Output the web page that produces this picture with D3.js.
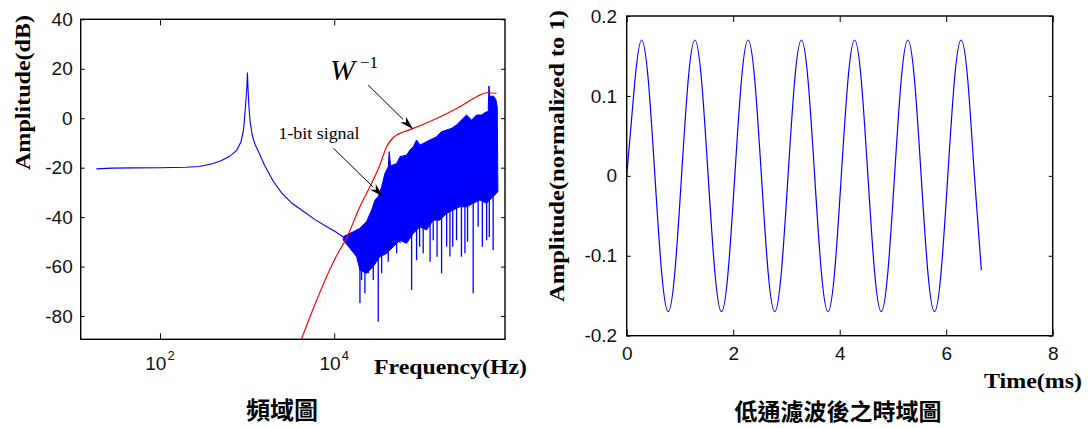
<!DOCTYPE html>
<html><head><meta charset="utf-8">
<script src="https://cdn.jsdelivr.net/npm/d3@7"></script>
<style>body{margin:0;background:#fff}svg{display:block}</style>
</head><body>
<svg id="c" width="1090" height="428"></svg>
<script>
// ---------- Left chart data (frequency in log10 Hz, amplitude in dB) ----------
const lowLogF = [1.27,1.45,1.7,2.0,2.3,2.45,2.6,2.7,2.8,2.88,2.93,2.96,2.975,2.99,2.998,3.004,3.01,3.02,3.035,3.06,3.09,3.13,3.2,3.3,3.4,3.52,3.64,3.78,3.92,4.02,4.104];
const lowDb   = [-20.5,-20.2,-20.1,-20.0,-19.8,-19.5,-18.4,-17.2,-15.4,-13.0,-9.5,-4.5,2,9,13,18.5,12.5,5,-1.5,-7,-10.5,-13.5,-19.0,-25.5,-30.4,-34.5,-37.5,-41.0,-44.0,-46.0,-48.0];

const bandTopLogF = [4.104,4.218,4.295,4.371,4.429,4.467,4.505,4.544,4.582,4.62,4.631,4.647,4.716,4.754,4.83,4.869,4.907,4.945,4.983,5.021,5.098,5.175,5.232,5.289,5.347,5.404,5.461,5.519,5.576,5.634,5.691,5.748,5.767,5.775,5.787,5.825,5.855,5.871,5.878];
const bandTopDb   = [-47.9,-45.9,-44.5,-41.8,-37.1,-33.1,-31.7,-27.7,-22.3,-19.6,-13.5,-19.3,-18.3,-15.6,-14.9,-12.9,-11.5,-8.8,-10.8,-10.2,-8.8,-7.5,-5.4,-4.8,-4.1,-2.7,-0.7,1.3,-0.7,1.3,1.3,2.6,2.6,13.0,8.7,9.0,7.6,4.7,-29.0];

const bandBotLogF = [4.104,4.18,4.257,4.295,4.371,4.448,4.524,4.601,4.677,4.754,4.83,4.907,4.983,5.06,5.136,5.213,5.289,5.366,5.442,5.519,5.595,5.672,5.748,5.825,5.878];
const bandBotDb   = [-49.3,-52.6,-56.0,-61.4,-62.7,-60.0,-56.0,-54.7,-52.0,-49.3,-50.6,-46.6,-43.9,-45.2,-41.2,-41.2,-38.5,-37.1,-35.8,-35.8,-34.4,-33.1,-34.4,-31.7,-29.7];

const spikeLogF = [4.295,4.314,4.352,4.391,4.448,4.505,4.544,4.62,4.716,4.754,4.888,4.945,4.98,5.021,5.1,5.136,5.18,5.232,5.29,5.328,5.36,5.404,5.46,5.5,5.53,5.595,5.652,5.7,5.749,5.78,5.824];
const spikeDb   = [-74.8,-65.4,-70.8,-62.7,-65.4,-82.3,-62.7,-58.0,-54.6,-50.6,-69.5,-57.4,-52.0,-54.6,-58.0,-49.3,-56.0,-62.7,-52.0,-55.9,-52.0,-49.3,-56.0,-54.6,-50.0,-70.8,-43.9,-52.0,-49.3,-48.0,-53.3];

const wLogF = [3.60,4.028,4.134,4.295,4.429,4.524,4.601,4.66,4.716,4.80,4.906,5.136,5.442,5.634,5.749,5.863];
const wDb   = [-91.5,-55.5,-49.0,-35.8,-26.3,-18.9,-11.5,-8.5,-6.8,-5.5,-4.1,-0.7,4.65,8.7,10.3,10.1];

const freqTicks = [100, 10000];
const freqTickExp = ["2", "4"];
const dbTicks = [-80,-60,-40,-20,0,20,40];

// ---------- Right chart data (time in ms, normalized amplitude) ----------
const timeMs = [0,0.155,0.28,0.405,0.53,0.655,0.78,0.905,
  1.03,1.155,1.28,1.405,1.53,1.655,1.78,1.905,
  2.03,2.155,2.28,2.405,2.53,2.655,2.78,2.905,
  3.03,3.155,3.28,3.405,3.53,3.655,3.78,3.905,
  4.03,4.155,4.28,4.405,4.53,4.655,4.78,4.905,
  5.03,5.155,5.28,5.405,5.53,5.655,5.78,5.905,
  6.03,6.155,6.28,6.405,6.53,6.66];
const amp = [0.0,0.12,0.17,0.12,0.0,-0.12,-0.17,-0.12,
  0.0,0.12,0.17,0.12,0.0,-0.12,-0.17,-0.12,
  0.0,0.12,0.17,0.12,0.0,-0.12,-0.17,-0.12,
  0.0,0.12,0.17,0.12,0.0,-0.12,-0.17,-0.12,
  0.0,0.12,0.17,0.12,0.0,-0.12,-0.17,-0.12,
  0.0,0.12,0.17,0.12,0.0,-0.12,-0.17,-0.12,
  0.0,0.12,0.17,0.12,0.0,-0.118];
const timeTicks = [0,2,4,6,8];
const ampTicks = [-0.2,-0.1,0,0.1,0.2];

// ---------- Drawing ----------
const svg = d3.select("#c");
const TICKFONT = "'Liberation Sans', Arial, sans-serif";
const LABELFONT = "'Liberation Serif', 'Times New Roman', serif";
const CJK = "'Noto Sans CJK TC', 'Noto Sans CJK SC', sans-serif";

const L = {x0:80.7, x1:505, y0:19.3, y1:339.3};
const R = {x0:626.7, x1:1052.7, y0:16, y1:335.7};

const xF = d3.scaleLog().domain([Math.pow(10,1.09), Math.pow(10,5.96)]).range([L.x0, L.x1]);
const yF = d3.scaleLinear().domain([-89.4, 40]).range([L.y1, L.y0]);
const xT = d3.scaleLinear().domain([0, 8]).range([R.x0, R.x1]);
const yT = d3.scaleLinear().domain([-0.2, 0.2]).range([R.y1, R.y0]);
const p10 = v => Math.pow(10, v);

const defs = svg.append("defs");
defs.append("clipPath").attr("id","clipL").append("rect")
  .attr("x",L.x0).attr("y",L.y0).attr("width",L.x1-L.x0).attr("height",L.y1-L.y0);
defs.append("clipPath").attr("id","clipR").append("rect")
  .attr("x",R.x0).attr("y",R.y0).attr("width",R.x1-R.x0).attr("height",R.y1-R.y0);

function styleAxis(g){
  g.select(".domain").remove();
  g.selectAll(".tick line").attr("stroke","#000").attr("stroke-width",1);
  g.selectAll(".tick text").attr("font-family",TICKFONT).attr("font-size",19).attr("fill","#111");
}

// ===== Left chart =====
const gL = svg.append("g");
const cL = gL.append("g").attr("clip-path","url(#clipL)");

const lowPts = lowLogF.map((v,i)=>[xF(p10(v)), yF(lowDb[i])]);
cL.append("path").attr("d", d3.line()(lowPts))
  .attr("fill","none").attr("stroke","#0000ff").attr("stroke-width",1.1);

const topPts = bandTopLogF.map((v,i)=>[xF(p10(v)), yF(bandTopDb[i])]);
const botPts = bandBotLogF.map((v,i)=>[xF(p10(v)), yF(bandBotDb[i])]).reverse();
cL.append("path").attr("d", d3.line()(topPts.concat(botPts)) + "Z")
  .attr("fill","#0000ff").attr("stroke","#0000ff").attr("stroke-width",1);

const bis = d3.bisector(d=>d).left;
function botAt(lf){
  let i = bis(bandBotLogF, lf);
  if (i<=0) return bandBotDb[0];
  if (i>=bandBotLogF.length) return bandBotDb[bandBotDb.length-1];
  const a=bandBotLogF[i-1], b=bandBotLogF[i];
  const t=(lf-a)/(b-a);
  return bandBotDb[i-1]+(bandBotDb[i]-bandBotDb[i-1])*t;
}
cL.selectAll("line.spike").data(spikeLogF).join("line").attr("class","spike")
  .attr("x1",d=>xF(p10(d))).attr("x2",d=>xF(p10(d)))
  .attr("y1",(d,i)=>yF(spikeDb[i])).attr("y2",d=>yF(botAt(d)+3))
  .attr("stroke","#0000ff").attr("stroke-width",1.3);

const wPts = wLogF.map((v,i)=>[xF(p10(v)), yF(wDb[i])]);
cL.append("path").attr("d", d3.line().curve(d3.curveMonotoneX)(wPts))
  .attr("fill","none").attr("stroke","#ff0000").attr("stroke-width",1.2);

gL.append("g").attr("transform",`translate(0,${L.y1})`)
  .call(d3.axisBottom(xF).tickValues(freqTicks).tickSize(-6).tickFormat("")).call(styleAxis);
gL.append("g").attr("transform",`translate(0,${L.y0})`)
  .call(d3.axisTop(xF).tickValues(freqTicks).tickSize(-6).tickFormat("")).call(styleAxis);
gL.append("g").attr("transform",`translate(${L.x0},0)`)
  .call(d3.axisLeft(yF).tickValues(dbTicks).tickSize(-4).tickPadding(8).tickFormat(d=>String(d))).call(styleAxis);
gL.append("g").attr("transform",`translate(${L.x1},0)`)
  .call(d3.axisRight(yF).tickValues(dbTicks).tickSize(-4).tickFormat("")).call(styleAxis);

freqTicks.forEach((f,i)=>{
  const t = gL.append("text").attr("x", xF(f)).attr("y", 370)
    .attr("text-anchor","middle").attr("font-family",TICKFONT).attr("fill","#111");
  t.append("tspan").attr("font-size",19).text("10");
  t.append("tspan").attr("font-size",13).attr("dy",-10).attr("dx",1).text(freqTickExp[i]);
});

gL.append("rect").attr("x",L.x0).attr("y",L.y0).attr("width",L.x1-L.x0).attr("height",L.y1-L.y0)
  .attr("fill","none").attr("stroke","#000").attr("stroke-width",1.4);

function arrow(g, lf0, db0, lf1, db1){
  const x0=xF(p10(lf0)), y0=yF(db0), x1=xF(p10(lf1)), y1=yF(db1);
  const dx=x1-x0, dy=y1-y0, len=Math.hypot(dx,dy), ux=dx/len, uy=dy/len;
  const hl=14, hw=4;
  const bx=x1-ux*hl, by=y1-uy*hl;
  g.append("line").attr("x1",x0).attr("y1",y0).attr("x2",bx).attr("y2",by)
    .attr("stroke","#000").attr("stroke-width",1);
  g.append("path").attr("d",`M${x1},${y1}L${bx-uy*hw},${by+ux*hw}L${bx+ux*4},${by+uy*4}L${bx+uy*hw},${by-ux*hw}Z`)
    .attr("fill","#000");
}
arrow(gL, 4.39, 13.4, 4.906, -4.5);
arrow(gL, 3.992, -12.2, 4.559, -31.7);

const wt = gL.append("text").attr("x", xF(p10(3.95))).attr("y", yF(15.4))
  .attr("font-family",LABELFONT).attr("fill","#000");
wt.append("tspan").attr("font-size",30).attr("font-style","italic").text("W");
wt.append("tspan").attr("font-size",17).attr("dx",5).attr("dy",-12).text("\u22121");

gL.append("text").attr("x", xF(p10(3.36))).attr("y", yF(-8.4))
  .attr("font-family",LABELFONT).attr("font-size",17).attr("textLength",81)
  .attr("lengthAdjust","spacingAndGlyphs").text("1-bit signal");

gL.append("text").attr("transform","translate(30,92.5) rotate(-90)")
  .attr("text-anchor","middle").attr("font-family",LABELFONT).attr("font-weight","bold")
  .attr("font-size",22).attr("textLength",155).attr("lengthAdjust","spacingAndGlyphs")
  .text("Amplitude(dB)");
gL.append("text").attr("x",374).attr("y",373.5)
  .attr("font-family",LABELFONT).attr("font-weight","bold")
  .attr("font-size",22).attr("textLength",153).attr("lengthAdjust","spacingAndGlyphs")
  .text("Frequency(Hz)");
gL.append("text").attr("x",282).attr("y",408).attr("text-anchor","middle")
  .attr("dominant-baseline","central").attr("font-family",CJK).attr("font-weight","bold")
  .attr("font-size",24).text("頻域圖");

// ===== Right chart =====
const gR = svg.append("g");
const cR = gR.append("g").attr("clip-path","url(#clipR)");
const sigPts = timeMs.map((t,i)=>[xT(t), yT(amp[i])]);
cR.append("path").attr("d", d3.line().curve(d3.curveNatural)(sigPts))
  .attr("fill","none").attr("stroke","#0000ff").attr("stroke-width",1.2);

gR.append("g").attr("transform",`translate(0,${R.y1})`)
  .call(d3.axisBottom(xT).tickValues(timeTicks).tickSize(-6).tickPadding(11).tickFormat(d=>String(d))).call(styleAxis);
gR.append("g").attr("transform",`translate(0,${R.y0})`)
  .call(d3.axisTop(xT).tickValues(timeTicks).tickSize(-6).tickFormat("")).call(styleAxis);
gR.append("g").attr("transform",`translate(${R.x0},0)`)
  .call(d3.axisLeft(yT).tickValues(ampTicks).tickSize(-4).tickPadding(9.5).tickFormat(d=>String(d))).call(styleAxis);
gR.append("g").attr("transform",`translate(${R.x1},0)`)
  .call(d3.axisRight(yT).tickValues(ampTicks).tickSize(-4).tickFormat("")).call(styleAxis);

gR.append("rect").attr("x",R.x0).attr("y",R.y0).attr("width",R.x1-R.x0).attr("height",R.y1-R.y0)
  .attr("fill","none").attr("stroke","#000").attr("stroke-width",1.4);

gR.append("text").attr("transform","translate(564,156) rotate(-90)")
  .attr("text-anchor","middle").attr("font-family",LABELFONT).attr("font-weight","bold")
  .attr("font-size",22).attr("textLength",292).attr("lengthAdjust","spacingAndGlyphs")
  .text("Amplitude(normalized to 1)");
gR.append("text").attr("x",984).attr("y",388)
  .attr("font-family",LABELFONT).attr("font-weight","bold")
  .attr("font-size",22).attr("textLength",98).attr("lengthAdjust","spacingAndGlyphs")
  .text("Time(ms)");
gR.append("text").attr("x",838).attr("y",410).attr("text-anchor","middle")
  .attr("dominant-baseline","central").attr("font-family",CJK).attr("font-weight","bold")
  .attr("font-size",23).text("低通濾波後之時域圖");
</script>
</body></html>
